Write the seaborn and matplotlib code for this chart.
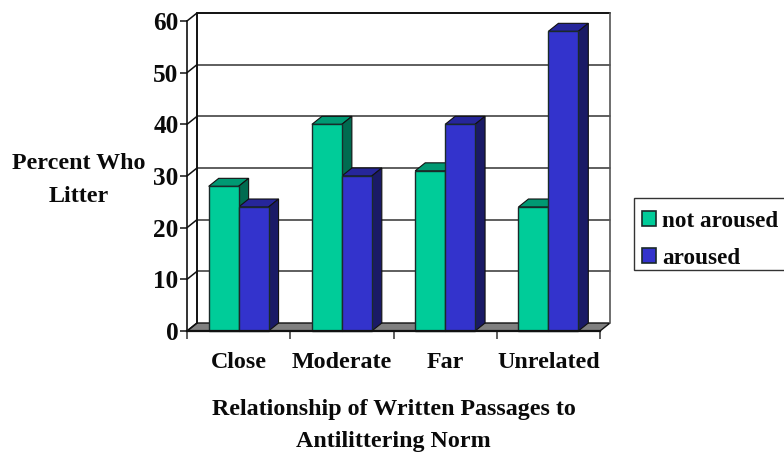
import matplotlib
matplotlib.use('Agg')
import pandas as pd
import seaborn as sns
from matplotlib import pyplot as plt
from matplotlib.patches import Polygon, Patch, Rectangle

categories = ['Close', 'Moderate', 'Far', 'Unrelated']
not_aroused = [28, 40, 31, 24]
aroused = [24, 30, 40, 58]
series_names = ['not aroused', 'aroused']
y_ticks = [0, 10, 20, 30, 40, 50, 60]

front_colors = ['#00CC99', '#3333CC']
top_colors = ['#009973', '#26269A']
side_colors = ['#006B50', '#1A1A66']

sns.set_theme(style='white')
plt.rcParams['font.family'] = ['Liberation Serif', 'DejaVu Serif']
plt.rcParams['font.weight'] = 'bold'
FS = 17.3

df = pd.DataFrame({
    'category': categories * 2,
    'series': [series_names[0]] * 4 + [series_names[1]] * 4,
    'value': not_aroused + aroused,
})

W, H = 784, 454
fig = plt.figure(figsize=(W / 100, H / 100), dpi=100)
# front plane of the fake 3d box, in pixels
ax = fig.add_axes([187 / W, 1 - 331 / H, 413 / W, 310 / H])
ax.patch.set_alpha(0)

sns.barplot(data=df, x='category', y='value', hue='series', hue_order=series_names,
            palette=front_colors, order=categories, width=0.58, gap=0, saturation=1,
            edgecolor='#1a2a2a', linewidth=1, ax=ax, legend=False)
ax.set_xlim(-0.5, 3.5)
ax.set_ylim(0, 60)

# depth offset of the box, in data units
dx = 10 / 413 * 4
dy = 8 / 310 * 60

bars = list(ax.patches)

x0, x1 = -0.5, 3.5
floor = Polygon([(x0, 0), (x0 + dx, dy), (x1 + dx, dy), (x1, 0)], closed=True,
                facecolor='#808080', edgecolor='#111111', lw=1, clip_on=False, zorder=1)
ax.add_patch(floor)

for t in y_ticks:
    ax.plot([x0, x0 + dx], [t, t + dy], color='#111111', lw=1.1, clip_on=False, zorder=1.5)
    if 0 < t < 60:
        ax.plot([x0 + dx, x1 + dx], [t + dy, t + dy], color='#333333', lw=1.1,
                clip_on=False, zorder=1.5)
ax.plot([x0 + dx, x0 + dx], [dy, 60 + dy], color='#111111', lw=1.4, clip_on=False, zorder=1.5)
ax.plot([x0 + dx, x1 + dx], [60 + dy, 60 + dy], color='#111111', lw=1.4, clip_on=False, zorder=1.5)
ax.plot([x1 + dx, x1 + dx], [dy, 60 + dy], color='#555555', lw=1.2, clip_on=False, zorder=1.5)

# tops and sides from the bars seaborn drew
for k, bar in enumerate(bars):
    s = k // 4
    left = bar.get_x()
    right = left + bar.get_width()
    h = bar.get_height()
    top = Polygon([(left, h), (left + dx, h + dy), (right + dx, h + dy), (right, h)],
                  closed=True, facecolor=top_colors[s], edgecolor='#111111', lw=0.8,
                  clip_on=False, zorder=3 + s)
    side = Polygon([(right, 0), (right + dx, dy), (right + dx, h + dy), (right, h)],
                   closed=True, facecolor=side_colors[s], edgecolor='#111111', lw=0.8,
                   clip_on=False, zorder=3 + s)
    ax.add_patch(top)
    ax.add_patch(side)
    bar.set_zorder(5 + s)
    bar.set_clip_on(False)

sns.despine(ax=ax, top=True, right=True)
ax.spines['left'].set(color='#111111', lw=1.2)
ax.spines['bottom'].set(color='#111111', lw=1.6, zorder=8)

ax.set_yticks(y_ticks)
ax.set_yticklabels([str(t) for t in y_ticks], fontsize=18.2, fontweight='bold', color='#0a0a0a')
ax.tick_params(axis='y', length=5, width=1.1, color='#111111', pad=1, left=True)
ax.set_xticks(range(4))
ax.set_xticklabels(categories, fontsize=FS, fontweight='bold', color='#0a0a0a')
ax.set_xticks([-0.5, 0.5, 1.5, 2.5, 3.5], minor=True)
ax.tick_params(axis='x', which='major', length=0, pad=15)
ax.tick_params(axis='x', which='minor', length=6, width=1.1, color='#333333', bottom=True)

ax.set_xlabel('Relationship of Written Passages to\nAntilittering Norm',
              fontsize=FS, fontweight='bold', color='#0a0a0a', linespacing=1.7)
ax.xaxis.set_label_coords(0.5, -0.218)
ax.xaxis.label.set_verticalalignment('top')
ax.set_ylabel('Percent Who\nLitter', rotation=0, fontsize=FS, fontweight='bold',
              color='#0a0a0a', linespacing=1.7, ha='center', va='center')
ax.yaxis.set_label_coords((79 - 187) / 413, (331 - 180) / 310)

# legend frame runs off the right edge of the picture
fig.add_artist(Rectangle((634 / W, 1 - 270 / H), 170 / W, 72 / H, transform=fig.transFigure,
                         facecolor='white', edgecolor='#333333', lw=1))
handles = [Patch(facecolor=c, edgecolor='#1a2a2a', lw=1.2, label=n)
           for c, n in zip(front_colors, series_names)]
leg = fig.legend(handles=handles, loc='upper left', bbox_to_anchor=(634 / W, 1 - 203 / H),
                 bbox_transform=fig.transFigure, borderaxespad=0, fontsize=16.7, frameon=False,
                 handlelength=0.62, handleheight=0.62, handletextpad=0.25, labelspacing=0.68,
                 borderpad=0.35, labelcolor='#0a0a0a')

plt.savefig('out.png', dpi=100)
